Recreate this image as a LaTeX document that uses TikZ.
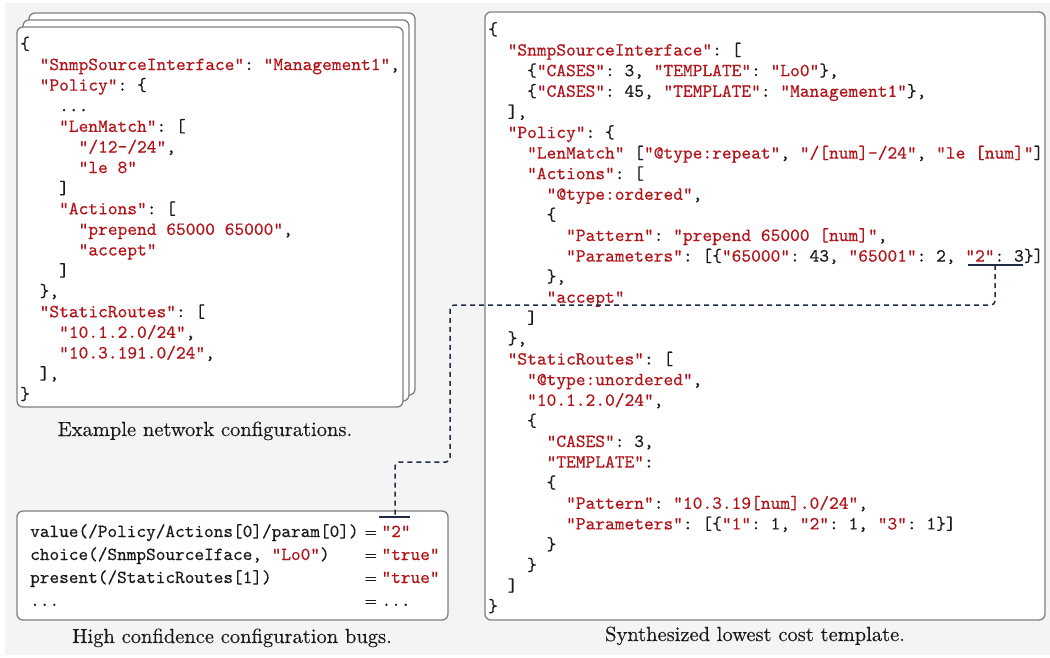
\documentclass[tikz,border=0pt]{standalone}
\usepackage{fontspec}
\usepackage{xcolor}
\newfontfamily\codefont{lmmono10-regular}[Extension=.otf,FakeBold=0.35]
\newfontfamily\captfont{lmroman10-regular}[Extension=.otf,FakeBold=0.3]
\definecolor{bgc}{HTML}{F4F4F4}
\definecolor{boxgray}{HTML}{808080}
\definecolor{codered}{HTML}{B3141A}
\definecolor{navy}{HTML}{1F2C47}
\definecolor{codeblack}{HTML}{1A1A1A}
\newcommand\rs[1]{\textcolor{codered}{#1}}
\newcommand\eqs{{\captfont\fontsize{16}{16}\selectfont =}}
\begin{document}
\begin{tikzpicture}[x=1pt,y=-1pt,
  cbox/.style={draw=boxgray,line width=1.3pt,rounded corners=6pt,fill=white},
  code/.style={inner sep=0pt,anchor=base west,text=codeblack,
    font=\fontsize{18.55}{20.6}\selectfont\codefont\frenchspacing},
  capt/.style={inner sep=0pt,anchor=base,text=codeblack,font=\fontsize{20.5}{24}\selectfont\captfont},
  conn/.style={draw=navy,line width=1.5pt,dash pattern=on 5pt off 4pt,rounded corners=4pt},
  bar/.style={draw=navy,line width=1.4pt}]
\useasboundingbox (0,0) rectangle (1050,657);
\fill[bgc] (5,3) rectangle (1050,655);

% stacked example configurations
\draw[cbox] (29,13) rectangle (415,395);
\draw[cbox] (23,20) rectangle (409,401);
\draw[cbox] (17,27) rectangle (403,407);

\node[code] (lcode) at (20,49.5) {\begin{tabular}[t]{@{}l@{}}
\{\\
~~\rs{"SnmpSourceInterface"}: \rs{"Management1"},\\
~~\rs{"Policy"}: \{\\
~~~~...\\
~~~~\rs{"LenMatch"}: [\\
~~~~~~\rs{"/12-/24"},\\
~~~~~~\rs{"le 8"}\\
~~~~]\\
~~~~\rs{"Actions"}: [\\
~~~~~~\rs{"prepend 65000 65000"},\\
~~~~~~\rs{"accept"}\\
~~~~]\\
~~\},\\
~~\rs{"StaticRoutes"}: [\\
~~~~\rs{"10.1.2.0/24"},\\
~~~~\rs{"10.3.191.0/24"},\\
~~],\\
\}
\end{tabular}};
\node[capt] (lcap) at (205,436) {Example network configurations.};

% synthesized template
\draw[cbox] (485,12) rectangle (1045,620);
\node[code] (rcode) at (488,35) {\begin{tabular}[t]{@{}l@{}}
\{\\
~~\rs{"SnmpSourceInterface"}: [\\
~~~~\{\rs{"CASES"}: 3, \rs{"TEMPLATE"}: \rs{"Lo0"}\},\\
~~~~\{\rs{"CASES"}: 45, \rs{"TEMPLATE"}: \rs{"Management1"}\},\\
~~],\\
~~\rs{"Policy"}: \{\\
~~~~\rs{"LenMatch"} [\rs{"@type:repeat"}, \rs{"/[num]-/24"}, \rs{"le [num]"}]\\
~~~~\rs{"Actions"}: [\\
~~~~~~\rs{"@type:ordered"},\\
~~~~~~\{\\
~~~~~~~~\rs{"Pattern"}: \rs{"prepend 65000 [num]"},\\
~~~~~~~~\rs{"Parameters"}: [\{\rs{"65000"}: 43, \rs{"65001"}: 2, \rs{"2"}: 3\}]\\
~~~~~~\},\\
~~~~~~\rs{"accept"}\\
~~~~]\\
~~\},\\
~~\rs{"StaticRoutes"}: [\\
~~~~\rs{"@type:unordered"},\\
~~~~\rs{"10.1.2.0/24"},\\
~~~~\{\\
~~~~~~\rs{"CASES"}: 3,\\
~~~~~~\rs{"TEMPLATE"}:\\
~~~~~~\{\\
~~~~~~~~\rs{"Pattern"}: \rs{"10.3.19[num].0/24"},\\
~~~~~~~~\rs{"Parameters"}: [\{\rs{"1"}: 1, \rs{"2"}: 1, \rs{"3"}: 1\}]\\
~~~~~~\}\\
~~~~\}\\
~~]\\
\}
\end{tabular}};
\node[capt] (rcap) at (755,641) {Synthesized lowest cost template.};

% bugs
\draw[cbox] (17,511) rectangle (448,620);
\node[code,font=\fontsize{18.4}{23}\selectfont\codefont\frenchspacing] (bcode) at (30,537) {\begin{tabular}[t]{@{}l@{\hspace{6pt}}l@{\hspace{4.5pt}}l@{}}
value(/Policy/Actions[0]/param[0]) & \eqs & \rs{"2"}\\
choice(/SnmpSourceIface, \rs{"Lo0"}) & \eqs & \rs{"true"}\\
present(/StaticRoutes[1]) & \eqs & \rs{"true"}\\
... & \eqs & ...
\end{tabular}};
\node[capt] (bcap) at (232,643) {High confidence configuration bugs.};

% connector
\coordinate (t1) at (968,265);
\coordinate (t2) at (1023,265);
\coordinate (tm) at (995,265);
\coordinate (b1) at (379,517);
\coordinate (b2) at (410,517);
\coordinate (bm) at (395,517);
\draw[bar] (t1) -- (t2);
\draw[bar] (b1) -- (b2);
\draw[conn] (tm) -- ++(0,40) -| (450,462) -| (bm);
\end{tikzpicture}
\end{document}
